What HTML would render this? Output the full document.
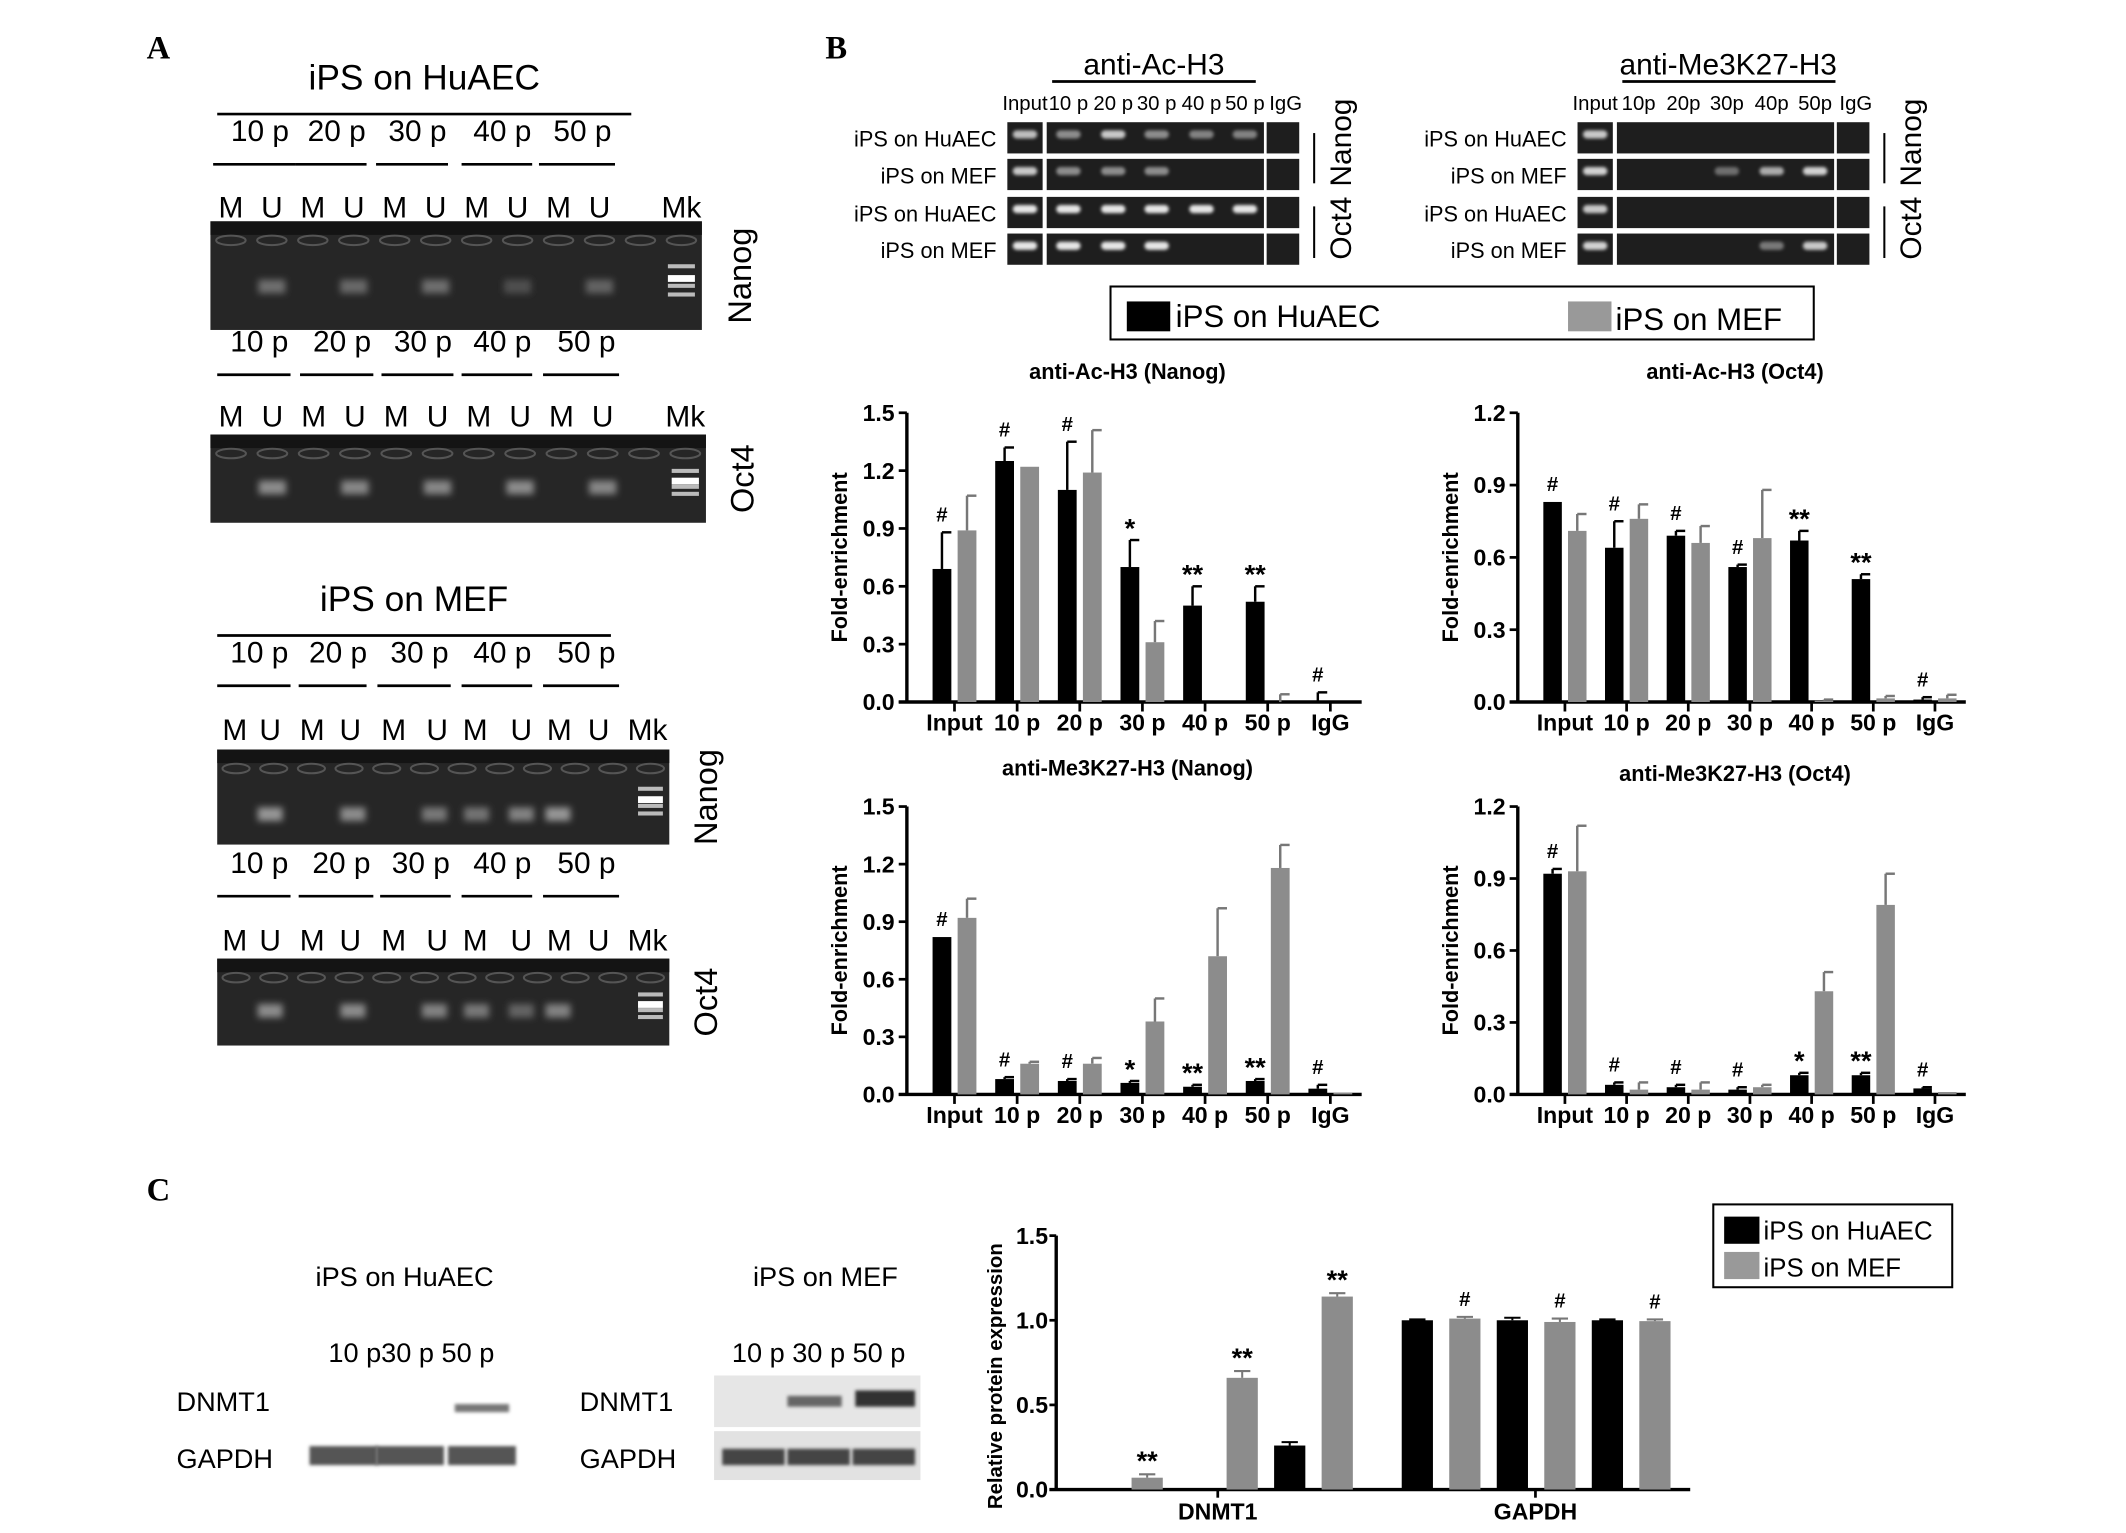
<!DOCTYPE html>
<html><head><meta charset="utf-8">
<style>
html,body{margin:0;padding:0;background:#fff;}
svg{display:block;}
text{font-family:"Liberation Sans",sans-serif;}
.pl{font-family:"Liberation Serif",serif;font-weight:bold;font-size:24px;}
</style></head>
<body>
<svg id="fig" width="2126" height="1533" viewBox="0 0 1566 1129" preserveAspectRatio="none" xmlns="http://www.w3.org/2000/svg">
<defs>
<filter id="blur" x="-50%" y="-50%" width="200%" height="200%"><feGaussianBlur stdDeviation="2.5"/></filter>
<filter id="blur1" x="-50%" y="-50%" width="200%" height="200%"><feGaussianBlur stdDeviation="1.2"/></filter>
</defs>
<text class="pl" x="108" y="43">A</text>
<text class="pl" x="608" y="43">B</text>
<text class="pl" x="108" y="884">C</text>
<g id="panelA"></g>
<g id="panelB"></g>
<g id="charts"></g>
<g id="panelC"></g>
</svg>
<script>
// ===== Chart data =====
const cats = ["Input","10 p","20 p","30 p","40 p","50 p","IgG"];
const acNanogBlack = [0.69,1.25,1.10,0.70,0.50,0.52,0.0];
const acNanogBlackErr = [0.19,0.07,0.25,0.14,0.10,0.08,0.05];
const acNanogGray = [0.89,1.22,1.19,0.31,0.0,0.0,0.0];
const acNanogGrayErr = [0.18,0.0,0.22,0.11,0.0,0.04,0.0];
const acNanogMarks = ["#","#","#","*","**","**","#"];
const acOct4Black = [0.83,0.64,0.69,0.56,0.67,0.51,0.01];
const acOct4BlackErr = [0.0,0.11,0.02,0.01,0.04,0.02,0.01];
const acOct4Gray = [0.71,0.76,0.66,0.68,0.005,0.015,0.015];
const acOct4GrayErr = [0.07,0.06,0.07,0.20,0.005,0.01,0.015];
const acOct4Marks = ["#","#","#","#","**","**","#"];
const meNanogBlack = [0.82,0.08,0.07,0.06,0.04,0.07,0.03];
const meNanogBlackErr = [0.0,0.01,0.01,0.01,0.01,0.01,0.02];
const meNanogGray = [0.92,0.16,0.16,0.38,0.72,1.18,0.01];
const meNanogGrayErr = [0.10,0.01,0.03,0.12,0.25,0.12,0.0];
const meNanogMarks = ["#","#","#","*","**","**","#"];
const meOct4Black = [0.92,0.04,0.03,0.02,0.08,0.08,0.025];
const meOct4BlackErr = [0.02,0.01,0.01,0.01,0.01,0.01,0.005];
const meOct4Gray = [0.93,0.02,0.02,0.03,0.43,0.79,0.01];
const meOct4GrayErr = [0.19,0.03,0.03,0.01,0.08,0.13,0.0];
const meOct4Marks = ["#","#","#","#","*","**","#"];
const ticks15 = ["0.0","0.3","0.6","0.9","1.2","1.5"];
const ticks12 = ["0.0","0.3","0.6","0.9","1.2"];
// Panel C
const cGenes = ["DNMT1","GAPDH"];
const cHuAEC = [0.0,0.0,0.26, 1.0,1.0,1.0];
const cHuAECErr = [0,0,0.02, 0.005,0.015,0.005];
const cMEF = [0.07,0.66,1.14, 1.01,0.99,0.995];
const cMEFErr = [0.02,0.04,0.02, 0.01,0.02,0.01];
const cMarks = ["**","**","**","#","#","#"];
const cTicks = ["0.0","0.5","1.0","1.5"];

const NS="http://www.w3.org/2000/svg";
function mk(parent,tag,attrs,txt){const e=document.createElementNS(NS,tag);for(const k in attrs)e.setAttribute(k,attrs[k]);if(txt!==undefined)e.textContent=txt;parent.appendChild(e);return e;}

const charts=document.getElementById('charts');
function drawChart(o){
  const g=mk(charts,'g',{});
  
  
  const x0=o.x0,x1=o.x1,y0=o.y0,yTop=o.yTop,max=o.max;
  const ys=v=>y0-(v/max)*(y0-yTop);
  const step=(x1-x0-12)/cats.length;
  const cx=i=>x0+12+step*(i+0.5);
  const t=mk(g,'text',{x:(x0+x1)/2-5,y:o.titleY,'text-anchor':'middle','font-size':16,'font-weight':'bold'},o.title);
  
  
  const yl=mk(g,'text',{transform:`translate(${x0-44},${(y0+yTop)/2}) rotate(-90)`,'text-anchor':'middle','font-size':16,'font-weight':'bold'},'Fold-enrichment');
  
  
  mk(g,'line',{x1:x0,y1:yTop,x2:x0,y2:y0,stroke:'#000','stroke-width':2.5});
  mk(g,'line',{x1:x0-6,y1:y0,x2:x1,y2:y0,stroke:'#000','stroke-width':2.5});
  o.ticks.forEach((tk,i)=>{const v=parseFloat(tk);const y=ys(v);
    mk(g,'line',{x1:x0-6,y1:y,x2:x0,y2:y,stroke:'#000','stroke-width':2});
    const tl=mk(g,'text',{x:x0-9,y:y+6,'text-anchor':'end','font-size':17,'font-weight':'bold'},tk);
    
    
  });
  const bw=step*0.3;
  cats.forEach((c,i)=>{
    const c0=cx(i);
    mk(g,'line',{x1:c0,y1:y0,x2:c0,y2:y0+7,stroke:'#000','stroke-width':2});
    const xl=mk(g,'text',{x:c0,y:y0+21,'text-anchor':'middle','font-size':17,'font-weight':'bold'},c);
    
    
    [[o.black,o.blackErr,'#000',-1],[o.gray,o.grayErr,'#8c8c8c',1]].forEach(([vals,errs,col,side])=>{
      const bx=c0+side*(step*0.2)-bw/2, v=vals[i], e=errs[i];
      const ex=bx+bw/2;
      if(e>0){mk(g,'line',{x1:ex,y1:ys(v),x2:ex,y2:ys(v+e),stroke:col==='#000'?'#000':'#777','stroke-width':1.8});
        mk(g,'line',{x1:ex,y1:ys(v+e),x2:ex+bw/2,y2:ys(v+e),stroke:col==='#000'?'#000':'#777','stroke-width':1.8});}
      if(v>0){const r=mk(g,'rect',{x:bx,y:ys(v),width:bw,height:y0-ys(v),fill:col});
        
        }
    });
    const bx=c0-step*0.2;
    const top=Math.max(o.black[i]+o.blackErr[i],0);
    const m=mk(g,'text',{x:bx,y:ys(top)-(o.marks[i]==='#'?8:2),'text-anchor':'middle','font-size':o.marks[i]==='#'?15:20,'font-weight':'bold'},o.marks[i]);
    
    
  });
}
drawChart({name:'chart-ac-nanog',title:'anti-Ac-H3 (Nanog)',titleY:279,x0:668,x1:1003,y0:517,yTop:304,max:1.5,ticks:ticks15,black:acNanogBlack,blackErr:acNanogBlackErr,gray:acNanogGray,grayErr:acNanogGrayErr,marks:acNanogMarks});
drawChart({name:'chart-ac-oct4',title:'anti-Ac-H3 (Oct4)',titleY:279,x0:1118,x1:1448,y0:517,yTop:304,max:1.2,ticks:ticks12,black:acOct4Black,blackErr:acOct4BlackErr,gray:acOct4Gray,grayErr:acOct4GrayErr,marks:acOct4Marks});
drawChart({name:'chart-me-nanog',title:'anti-Me3K27-H3 (Nanog)',titleY:571,x0:668,x1:1003,y0:806,yTop:594,max:1.5,ticks:ticks15,black:meNanogBlack,blackErr:meNanogBlackErr,gray:meNanogGray,grayErr:meNanogGrayErr,marks:meNanogMarks});
drawChart({name:'chart-me-oct4',title:'anti-Me3K27-H3 (Oct4)',titleY:575,x0:1118,x1:1448,y0:806,yTop:594,max:1.2,ticks:ticks12,black:meOct4Black,blackErr:meOct4BlackErr,gray:meOct4Gray,grayErr:meOct4GrayErr,marks:meOct4Marks});

// ===== Panel A gels =====
const pa=document.getElementById('panelA');
function txt(p,x,y,s,size,anchor,name){const t=mk(p,'text',{x:x,y:y,'font-size':size||22,'text-anchor':anchor||'start'},s);return t;}
function gelA(gy,gx,gw,gh,title,titleY,titleLine,passY,lines,muY,labels,bands,side,sideX){
  if(title){txt(pa,titleLine[0]+ (titleLine[1]-titleLine[0])/2,titleY,title,26,'middle','gel-title');
    mk(pa,'line',{x1:titleLine[0],y1:titleY+18,x2:titleLine[1],y2:titleY+18,stroke:'#000','stroke-width':2});}
  const ps=['10 p','20 p','30 p','40 p','50 p'];
  lines.forEach((l,i)=>{txt(pa,(l[0]+l[1])/2+4,passY,ps[i],22,'middle','passage-label');
    mk(pa,'line',{x1:l[0],y1:passY+17,x2:l[1],y2:passY+17,stroke:'#000','stroke-width':2});});
  labels.forEach(l=>txt(pa,l[0],muY,l[1],22,'middle','lane-label'));
  const r=mk(pa,'rect',{x:gx,y:gy,width:gw,height:gh,fill:'#262626'});
  
  
  mk(pa,'rect',{x:gx,y:gy,width:gw,height:10,fill:'#141414'});
  const lw=gw/12;
  for(let i=0;i<12;i++){mk(pa,'ellipse',{cx:gx+lw*(i+0.5),cy:gy+14,rx:lw*0.36,ry:3.5,fill:'none',stroke:'#555','stroke-width':1.5});}
  bands.forEach(b=>{const bxc=b[0]>20?b[0]:gx+lw*(b[0]+0.5);mk(pa,'rect',{x:bxc-lw*0.33,y:gy+gh*b[2]-5,width:lw*0.66,height:10,fill:'rgb('+b[1]+','+b[1]+','+b[1]+')',filter:'url(#blur)'});});
  [0.42,0.52,0.6,0.68].forEach((f,i)=>mk(pa,'rect',{x:gx+lw*11.5-lw*0.33,y:gy+gh*f-2,width:lw*0.66,height:i==1?5:3,fill:i==1?'#fff':'#bbb'}));
  const s=mk(pa,'text',{transform:`translate(${sideX},${gy+gh/2}) rotate(-90)`,'font-size':24,'text-anchor':'middle'},side);
  
  
}
const lanesA=(x0,w)=>{const lw=w/12;return i=>x0+lw*(i+0.5);};
let L=lanesA(155,362);
gelA(163,155,362,80,'iPS on HuAEC',66,[160,465],104,[[157,218],[218,270],[277,330],[340,392],[397,453]],160,
 [[L(0),'M'],[L(1),'U'],[L(2),'M'],[L(3),'U'],[L(4),'M'],[L(5),'U'],[L(6),'M'],[L(7),'U'],[L(8),'M'],[L(9),'U'],[L(11),'Mk']],
 [[1,110,0.6],[3,105,0.6],[5,110,0.6],[7,80,0.6],[9,100,0.6]],'Nanog',553);
L=lanesA(155,365);
gelA(320,155,365,65,null,0,null,259,[[160,214],[221,275],[281,334],[340,392],[400,456]],314,
 [[L(0),'M'],[L(1),'U'],[L(2),'M'],[L(3),'U'],[L(4),'M'],[L(5),'U'],[L(6),'M'],[L(7),'U'],[L(8),'M'],[L(9),'U'],[L(11),'Mk']],
 [[1,140,0.6],[3,135,0.6],[5,135,0.6],[7,140,0.6],[9,135,0.6]],'Oct4',555);
const labsMEF=[[173,'M'],[199,'U'],[230,'M'],[258,'U'],[290,'M'],[322,'U'],[350,'M'],[384,'U'],[412,'M'],[441,'U'],[477,'Mk']];
gelA(552,160,333,70,'iPS on MEF',450,[160,450],488,[[160,214],[220,270],[278,332],[340,392],[400,456]],545,
 labsMEF,[[199,150,0.68],[260,140,0.68],[320,120,0.68],[351,115,0.68],[384,130,0.68],[411,150,0.68]],'Nanog',528);
gelA(706,160,333,64,null,0,null,643,[[160,214],[220,275],[280,332],[340,392],[400,456]],700,
 labsMEF,[[199,140,0.6],[260,140,0.6],[320,130,0.6],[351,120,0.6],[384,100,0.6],[411,130,0.6]],'Oct4',528);

// ===== Panel B ChIP gels =====
const pb=document.getElementById('panelB');
function txtB(x,y,s,size,anchor,name){const t=mk(pb,'text',{x:x,y:y,'font-size':size,'text-anchor':anchor||'start'},s);return t;}
function chip(x0,title,titleX,lineX,bands){
  txtB(titleX,55,title,22,'middle','chip-title');
  mk(pb,'line',{x1:lineX[0],y1:60,x2:lineX[1],y2:60,stroke:'#000','stroke-width':2});
  const hdr=['Input','10 p','20 p','30 p','40 p','50 p','IgG'];
  const lx=[x0+13,x0+45,x0+78,x0+110,x0+143,x0+175,x0+205];
  hdr.forEach((h,i)=>txtB(lx[i],81,h.replace(' ',title.indexOf('Me')>0?'':' '),15,'middle','lane-header'));
  const rows=['iPS on HuAEC','iPS on MEF','iPS on HuAEC','iPS on MEF'];
  const ry=[90,117,145,172];
  rows.forEach((r,j)=>{
    txtB(x0-8,ry[j]+18,r,16,'end','row-label');
    [[x0,26],[x0+29,160],[x0+191,24]].forEach(([gx,w])=>mk(pb,'rect',{x:gx,y:ry[j],width:w,height:23,fill:'#1e1e1e'}));
    bands[j].forEach((v,i)=>{if(v>0)mk(pb,'rect',{x:lx[i]-9,y:ry[j]+6,width:18,height:6,rx:3,fill:'rgb('+v+','+v+','+v+')',filter:'url(#blur1)'});});
  });
  mk(pb,'line',{x1:x0+226,y1:98,x2:x0+226,y2:135,stroke:'#000','stroke-width':1.5});
  mk(pb,'line',{x1:x0+226,y1:152,x2:x0+226,y2:190,stroke:'#000','stroke-width':1.5});
  const n=mk(pb,'text',{transform:`translate(${x0+253},105) rotate(-90)`,'font-size':22,'text-anchor':'middle'},'Nanog');
  const o=mk(pb,'text',{transform:`translate(${x0+253},168) rotate(-90)`,'font-size':22,'text-anchor':'middle'},'Oct4');
}
chip(742,'anti-Ac-H3',850,[775,925],[[190,140,200,140,130,130,0],[200,140,140,140,0,0,0],[230,230,230,230,230,230,0],[230,230,230,230,0,0,0]]);
chip(1162,'anti-Me3K27-H3',1273,[1195,1352],[[200,0,0,0,0,0,0],[210,0,0,110,170,210,0],[200,0,0,0,0,0,0],[210,0,0,0,120,200,0]]);
mk(pb,'rect',{x:818,y:211,width:518,height:39,fill:'#fff',stroke:'#000','stroke-width':1.5});
const lg1=mk(pb,'rect',{x:830,y:222,width:32,height:22,fill:'#000'});
txtB(866,241,'iPS on HuAEC',23,'start','legend-entry');
const lg2=mk(pb,'rect',{x:1155,y:222,width:32,height:22,fill:'#999'});
txtB(1190,243,'iPS on MEF',23,'start','legend-entry');

// ===== Panel C =====
const pc=document.getElementById('panelC');
function txtC(x,y,s,size,anchor,name,w){const t=mk(pc,'text',{x:x,y:y,'font-size':size,'text-anchor':anchor||'start','font-weight':w||'normal'},s);return t;}
txtC(298,947,'iPS on HuAEC',20,'middle','blot-title');
txtC(608,947,'iPS on MEF',20,'middle','blot-title');
txtC(303,1003,'10 p30 p 50 p',20,'middle','blot-lanes');
txtC(603,1003,'10 p 30 p 50 p',20,'middle','blot-lanes');
txtC(130,1039,'DNMT1',20,'start','protein-label');
txtC(130,1081,'GAPDH',20,'start','protein-label');
txtC(427,1039,'DNMT1',20,'start','protein-label');
txtC(427,1081,'GAPDH',20,'start','protein-label');
[[253,1073],[302,1073],[355,1073]].forEach(b=>mk(pc,'rect',{x:b[0]-25,y:b[1]-8,width:50,height:14,fill:'#555',filter:'url(#blur1)'}));
mk(pc,'rect',{x:335,y:1034,width:40,height:6,fill:'#777',filter:'url(#blur1)'});
mk(pc,'rect',{x:526,y:1013,width:152,height:38,fill:'#e6e6e6'});
mk(pc,'rect',{x:526,y:1054,width:152,height:36,fill:'#e2e2e2'});
mk(pc,'rect',{x:580,y:1028,width:40,height:8,fill:'#666',filter:'url(#blur1)'});
mk(pc,'rect',{x:630,y:1024,width:44,height:12,fill:'#333',filter:'url(#blur1)'});
[555,603,651].forEach(x=>mk(pc,'rect',{x:x-23,y:1067,width:46,height:12,fill:'#444',filter:'url(#blur1)'}));
{
  const x0=778,x1=1245,y0=1097,yTop=910,max=1.5;
  const ys=v=>y0-(v/max)*(y0-yTop);
  mk(pc,'line',{x1:x0,y1:yTop,x2:x0,y2:y0,stroke:'#000','stroke-width':2.5});
  mk(pc,'line',{x1:x0-5,y1:y0,x2:x1,y2:y0,stroke:'#000','stroke-width':2.5});
  cTicks.forEach(tk=>{const y=ys(parseFloat(tk));mk(pc,'line',{x1:x0-5,y1:y,x2:x0,y2:y,stroke:'#000','stroke-width':2});txtC(x0-6,y+6,tk,17,'end','y-tick-label','bold');});
  txtC(0,0,'Relative protein expression',15,'middle','y-axis-title','bold').setAttribute('transform',`translate(${x0-40},${(y0+yTop)/2+10}) rotate(-90)`);
  const bw=23;
  const bx=i=>810+35*i+(i>=6?24:0);
  cHuAEC.forEach((v,k)=>{
    const ib=bx(2*k), ig=ib+35;
    const pairs=[[ib,v,cHuAECErr[k],'#000','bar-huaec'],[ig,cMEF[k],cMEFErr[k],'#8c8c8c','bar-mef']];
    pairs.forEach(([x,val,e,col,nm])=>{
      if(val>0){const r=mk(pc,'rect',{x:x-bw/2,y:ys(val),width:bw,height:y0-ys(val),fill:col});
        
        
        mk(pc,'line',{x1:x,y1:ys(val),x2:x,y2:ys(val+e),stroke:col==='#000'?'#000':'#777','stroke-width':1.5});
        mk(pc,'line',{x1:x-6,y1:ys(val+e),x2:x+6,y2:ys(val+e),stroke:col==='#000'?'#000':'#777','stroke-width':1.5});}
    });
    txtC(ig,ys(cMEF[k]+cMEFErr[k])-(cMarks[k]==='#'?8:3),cMarks[k],cMarks[k]==='#'?15:20,'middle','significance-mark','bold');
  });
  const gc=[bx(2)+17,bx(8)+17];
  cGenes.forEach((g,i)=>{mk(pc,'line',{x1:gc[i],y1:y0,x2:gc[i],y2:y0+6,stroke:'#000','stroke-width':2});txtC(gc[i],y0+22,g,17,'middle','x-tick-label','bold');});
  mk(pc,'rect',{x:1262,y:887,width:176,height:61,fill:'#fff',stroke:'#000','stroke-width':1.5});
  const s1=mk(pc,'rect',{x:1270,y:896,width:26,height:20,fill:'#000'});
  txtC(1299,913,'iPS on HuAEC',19,'start','legend-entry');
  const s2=mk(pc,'rect',{x:1270,y:922,width:26,height:20,fill:'#999'});
  txtC(1299,940,'iPS on MEF',19,'start','legend-entry');
}
</script>
</body></html>
